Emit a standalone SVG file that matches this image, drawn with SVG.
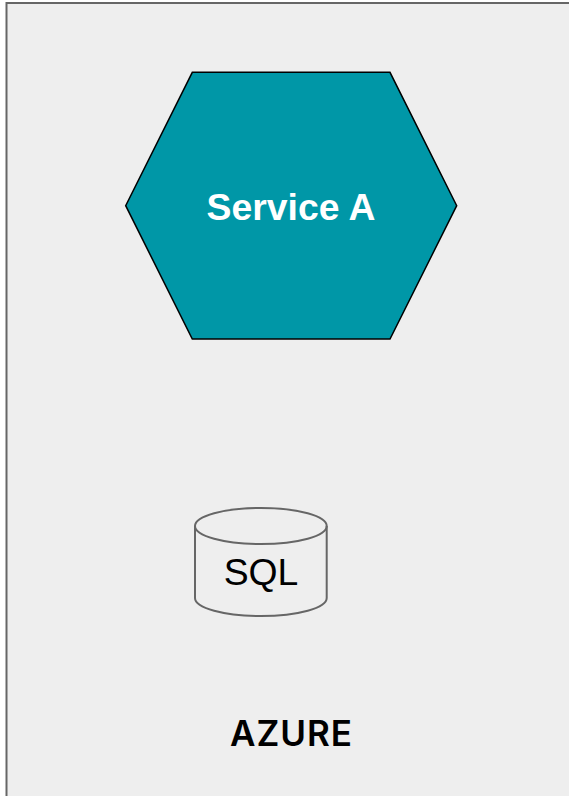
<svg xmlns="http://www.w3.org/2000/svg" width="569" height="796" viewBox="0 0 569 796">
<style>
.t{font-family:"Liberation Sans",Arial,sans-serif;text-anchor:middle}
</style>
<rect width="569" height="796" fill="#ffffff"/>
<g id="azure">
<rect x="6.500" y="3" width="600" height="840" fill="#eeeeee" stroke="#666666" stroke-width="2"/>
<text x="291.500" y="745.500" font-family="Inter,'Liberation Sans',sans-serif" font-size="35" font-weight="600" letter-spacing="1" text-anchor="middle" fill="#000000">AZURE</text>
</g>
<g id="service-a">
<polygon points="192.300,72.300 390,72.300 456.700,205.700 390,339 192.300,339 125.700,205.700" fill="#0097a7" stroke="#000000" stroke-width="1.500"/>
<text class="t" x="291" y="220" font-size="37.330" font-weight="700" fill="#ffffff">Service A</text>
</g>
<g id="sql">
<path d="M195 526C195 516 224 508 261 508C298 508 326.700 516 326.700 526V598C326.700 608 298 616 261 616C224 616 195 608 195 598Z" fill="#eeeeee" stroke="#666666" stroke-width="2"/>
<path d="M195 526C195 536 224 544 261 544C298 544 326.700 536 326.700 526" fill="none" stroke="#666666" stroke-width="2"/>
<text class="t" x="261" y="585" font-size="37.330" fill="#000000">SQL</text>
</g>
<g id="connectors"></g>
</svg>
